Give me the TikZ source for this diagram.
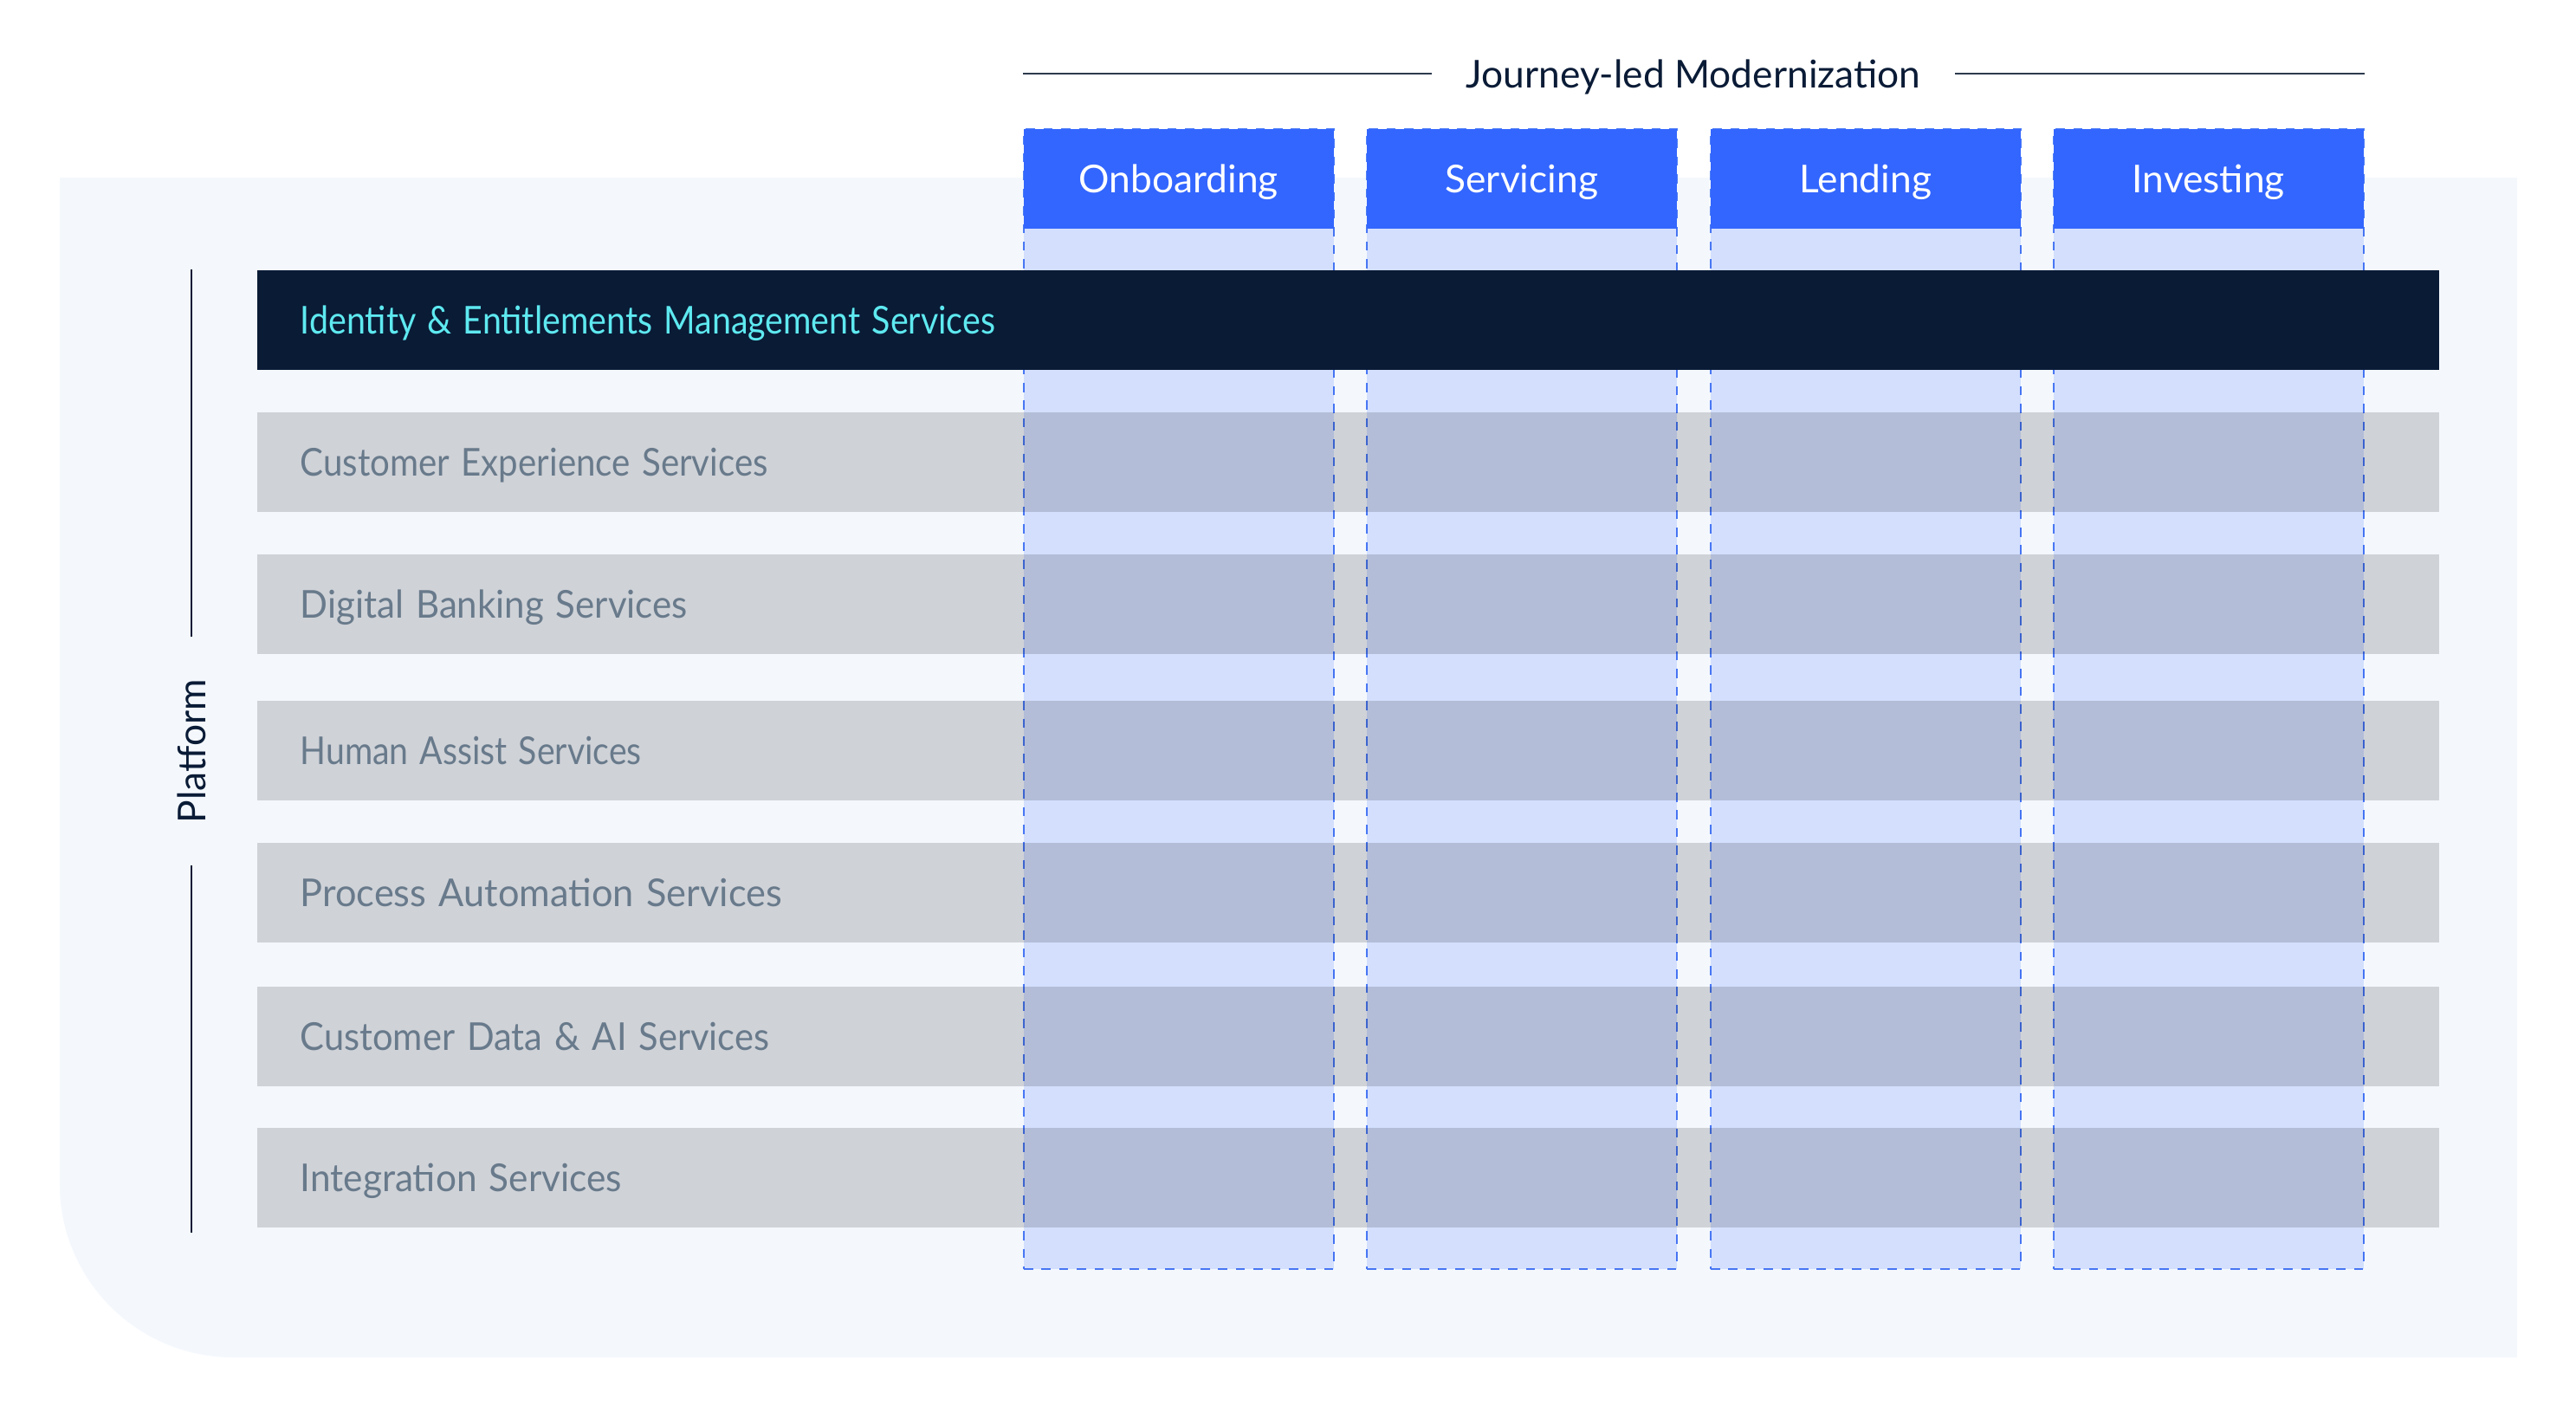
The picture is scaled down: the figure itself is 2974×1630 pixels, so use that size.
\documentclass[tikz,border=0pt]{standalone}
\usepackage{fontspec}
\setmainfont{Lato}
\usetikzlibrary{positioning}
\definecolor{panelbg}{HTML}{F4F8FD}
\definecolor{hdrblue}{HTML}{3366FF}
\definecolor{colfill}{HTML}{DDE6FF}
\definecolor{dashblue}{HTML}{5080F5}
\definecolor{bargrey}{HTML}{CFD2D7}
\definecolor{navy}{HTML}{0A1B36}
\definecolor{cyantext}{HTML}{5EE9F0}
\definecolor{greytext}{HTML}{687A8B}
\definecolor{rulegrey}{HTML}{2E3B4E}

\begin{document}
\begin{tikzpicture}[x=0.01cm, y=-0.01cm,
    txt/.style={font=\fontsize{12.6}{15}\selectfont, text height=0.32cm, text depth=0pt},
    bar/.style={txt, anchor=north west, minimum width=25.18cm, minimum height=1.15cm, text width=24.18cm,
        inner xsep=0.5cm, inner ysep=0pt, align=left, fill=bargrey, text=greytext},
    journeycol/.style={anchor=north west, minimum width=3.58cm, minimum height=13.15cm, inner sep=0pt,
        fill=colfill, draw=dashblue, dash pattern=on 3pt off 2.8pt, line width=0.6pt},
    hdr/.style={txt, anchor=north west, minimum width=3.58cm, minimum height=1.15cm, inner sep=0pt,
        fill=hdrblue, text=white},
    rule/.style={draw=rulegrey, line width=0.6pt}]
    \useasboundingbox (0,0) rectangle (2974,1630);
    % panel
    \fill[panelbg] (69,205) -- (2906,205) -- (2906,1567) -- (269,1567)
        arc[start angle=270, end angle=180, radius=2cm] -- cycle;
    % platform services
    \node[bar] (cx) at (296,475) {\scalebox{0.908}[1]{Customer Experience Services}};
    \node[bar] (dbank) at (296,639) {\scalebox{0.948}[1]{Digital Banking Services}};
    \node[bar] (human) at (296,808) {\scalebox{0.885}[1]{Human Assist Services}};
    \node[bar] (proc) at (296,972) {\scalebox{0.977}[1]{Process Automation Services}};
    \node[bar] (cdata) at (296,1138) {\scalebox{0.94}[1]{Customer Data \& AI Services}};
    \node[bar] (integ) at (296,1301) {\scalebox{0.956}[1]{Integration Services}};
    % journeys
    \begin{scope}[blend mode=multiply]
        \node[journeycol] (onbcol) at (1181,148) {};
        \node[journeycol] (sercol) at (1577,148) {};
        \node[journeycol] (lencol) at (1974,148) {};
        \node[journeycol] (invcol) at (2370,148) {};
    \end{scope}
    \node[hdr] (onb) at (1181,148) {Onboarding};
    \node[hdr] (ser) at (1577,148) {Servicing};
    \node[hdr] (len) at (1974,148) {Lending};
    \node[hdr] (inv) at (2370,148) {Investing};
    \node[bar, fill=navy, text=cyantext] (ident) at (296,311)
        {\scalebox{0.889}[1]{Identity \& Entitlements Management Services}};
    % titles
    \node[txt, text=navy, inner xsep=0.39cm] (journey) at (1955,85) {Journey-led Modernization};
    \draw[rule] (onb.north west |- journey) -- (journey.west);
    \draw[rule] (journey.east) -- (inv.north east |- journey);
    \node[txt, text=navy, rotate=90, inner xsep=0.48cm] (plat) at (221,867) {Platform};
    \coordinate (ptop) at (221,311);
    \coordinate (pbot) at (221,1423);
    \draw[rule, draw=navy] (ptop) -- (plat.east);
    \draw[rule, draw=navy] (plat.west) -- (pbot);
\end{tikzpicture}
\end{document}
